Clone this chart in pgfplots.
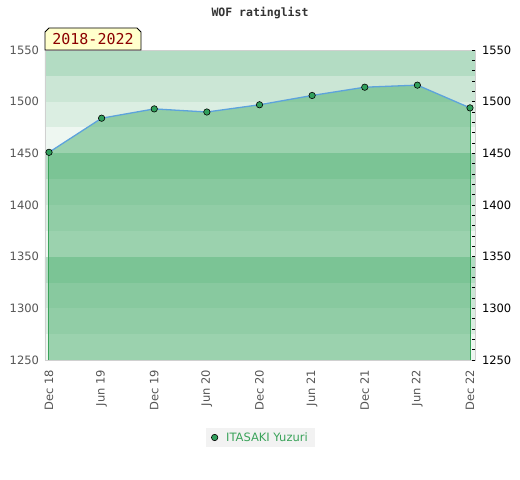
\documentclass[border=0pt]{standalone}
\usepackage{pgfplots}
\pgfplotsset{compat=1.18}
\usepackage{fontspec}
\setmainfont{DejaVu Sans}
\setmonofont{DejaVu Sans Mono}
\definecolor{bandA}{HTML}{B3DCC3}
\definecolor{bandB}{HTML}{CBE6D5}
\definecolor{bandC}{HTML}{DBEEE2}
\definecolor{bandD}{HTML}{EEF7F1}
\definecolor{areafill}{RGB}{62,169,99}
\definecolor{edgegreen}{HTML}{3AA35A}
\definecolor{linblue}{HTML}{5DA3DC}
\definecolor{markgreen}{HTML}{31A05C}
\definecolor{framegray}{HTML}{D0D0D0}
\definecolor{labgray}{HTML}{555555}
\definecolor{boxred}{HTML}{8B0000}
\definecolor{boxyellow}{HTML}{FFFFCC}
\definecolor{leggray}{HTML}{F2F2F2}
\begin{document}
\fontsize{11.5bp}{13bp}\selectfont
\begin{tikzpicture}
\begin{axis}[
  scale only axis,
  width=430bp, height=310bp,
  xmin=-0.076, xmax=8.095,
  ymin=1250, ymax=1550,
  xtick={0,...,8},
  xticklabels={Dec 18,Jun 19,Dec 19,Jun 20,Dec 20,Jun 21,Dec 21,Jun 22,Dec 22},
  x tick label style={rotate=90, anchor=east, text=labgray, font=\fontsize{11.5bp}{13bp}\selectfont},
  xticklabel shift=6bp,
  ytick={1250,1300,...,1550},
  y tick label style={text=labgray, font=\fontsize{11.5bp}{13bp}\selectfont},
  yticklabel shift=2bp,
  xtick pos=bottom, ytick pos=left,
  major tick length=0pt,
  /pgf/number format/assume math mode=true,
  /pgf/number format/1000 sep={},
  axis line style={draw=framegray},
  axis on top=true,
  legend style={at={(0.501,-0.25)}, anchor=center, fill=leggray, draw=none,
    font=\fontsize{11.5bp}{13bp}\selectfont, text=edgegreen,
    inner xsep=5bp, inner ysep=2.5bp},
  legend cell align=left,
]
% background bands
\fill[bandA] (axis cs:-1,1525) rectangle (axis cs:9,1550);
\fill[bandB] (axis cs:-1,1500) rectangle (axis cs:9,1525);
\fill[bandC] (axis cs:-1,1475) rectangle (axis cs:9,1500);
\fill[bandD] (axis cs:-1,1450) rectangle (axis cs:9,1475);
\fill[bandA] (axis cs:-1,1425) rectangle (axis cs:9,1450);
\fill[bandB] (axis cs:-1,1400) rectangle (axis cs:9,1425);
\fill[bandC] (axis cs:-1,1375) rectangle (axis cs:9,1400);
\fill[bandD] (axis cs:-1,1350) rectangle (axis cs:9,1375);
\fill[bandA] (axis cs:-1,1325) rectangle (axis cs:9,1350);
\fill[bandB] (axis cs:-1,1300) rectangle (axis cs:9,1325);
\fill[bandC] (axis cs:-1,1275) rectangle (axis cs:9,1300);
\fill[bandD] (axis cs:-1,1250) rectangle (axis cs:9,1275);
% area
\addplot[draw=none, fill=areafill, fill opacity=0.47, forget plot] coordinates {
(0,1250) (0,1451) (1,1484) (2,1493) (3,1490) (4,1497) (5,1506) (6,1514) (7,1516) (8,1494) (8,1250)};
\addplot[edgegreen, line width=1bp, forget plot] coordinates {(0,1250) (0,1451)};
\addplot[edgegreen, line width=1bp, forget plot] coordinates {(8,1250) (8,1494)};
\addplot[linblue, line width=1.3bp, forget plot] coordinates {
(0,1451) (1,1484) (2,1493) (3,1490) (4,1497) (5,1506) (6,1514) (7,1516) (8,1494)};
\addplot[only marks, mark=*, mark size=3.2bp, mark options={fill=markgreen, draw=black, line width=0.6bp},
  legend image code/.code={\draw[fill=markgreen, draw=black, line width=0.6bp] (3bp,0bp) circle (3.2bp);}] coordinates {
(0,1451) (1,1484) (2,1493) (3,1490) (4,1497) (5,1506) (6,1514) (7,1516) (8,1494)};
\addlegendentry{\hspace{6bp}ITASAKI Yuzuri}
\end{axis}
\begin{axis}[
  scale only axis,
  width=430bp, height=310bp,
  xmin=-0.076, xmax=8.095,
  ymin=1250, ymax=1550,
  axis x line=none,
  axis y line*=right,
  ytick={1250,1300,...,1550},
  minor y tick num=4,
  tick align=inside,
  major tick length=3bp, minor tick length=3bp,
  tick style={black, line width=0.8bp},
  y axis line style={draw=framegray},
  y tick label style={text=black, font=\fontsize{11.5bp}{13bp}\selectfont},
  yticklabel shift=3bp,
  /pgf/number format/assume math mode=true,
  /pgf/number format/1000 sep={},
]
\addplot[draw=none] coordinates {(0,1300)};
\end{axis}
% title
\node[font=\ttfamily\bfseries\fontsize{11.5bp}{13bp}\selectfont, text=black!80] at (215bp,347bp) {WOF ratinglist};
% period box
\draw[black, fill=boxyellow, line width=0.8bp] (0bp,310bp) -- (0bp,328bp) -- (4bp,332bp) -- (92bp,332bp) -- (96bp,328bp) -- (96bp,310bp) -- cycle;
\node[font=\ttfamily\fontsize{15bp}{17bp}\selectfont, text=boxred] at (48bp,320.5bp) {2018-2022};
\pgfresetboundingbox
\useasboundingbox (-45bp,-120bp) rectangle (475bp,360bp);
\end{tikzpicture}
\end{document}
